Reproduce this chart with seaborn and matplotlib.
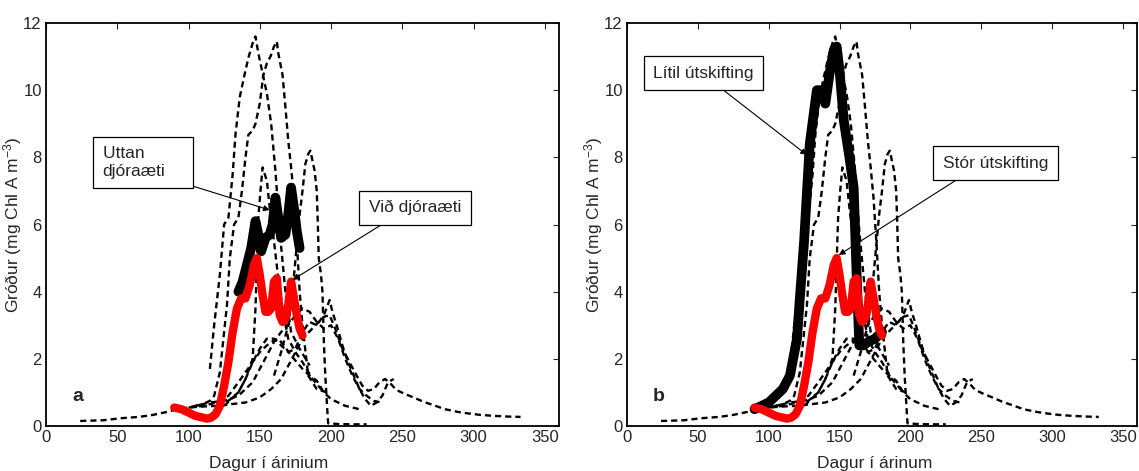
"""
Chlorophyll (Gróður) through the year, two panels a and b.
"""
import matplotlib
matplotlib.use('Agg')
import matplotlib.pyplot as plt
import numpy as np
import seaborn as sns

# background dashed series (same in both panels)
days_A = [115, 118, 122, 125, 128, 131, 133, 136, 139, 142, 145, 147, 149, 152, 155, 158, 161, 164, 168, 172, 178, 185]
chl_A = [1.7, 3.0, 4.5, 6.0, 6.2, 7.5, 8.7, 9.8, 10.4, 10.96, 11.4, 11.6, 11.1, 10.5, 9.9, 9.0, 7.6, 5.8, 4.0, 2.8, 2.3, 1.8]

days_B = [105, 110, 115, 118, 122, 125, 127, 129, 132, 135, 137.5, 140, 142, 145, 147, 150, 152.5, 155, 157.5, 160,
          162, 163, 166, 168, 170, 172, 174, 176, 178, 180, 184, 190, 197]
chl_B = [0.6, 0.65, 0.75, 0.9, 1.6, 2.8, 3.6, 5.0, 6.0, 6.2, 7.0, 8.0, 8.67, 8.8, 9.0, 9.6, 10.45, 10.8, 11.0, 11.3,
         11.45, 11.1, 10.45, 9.5, 8.5, 7.7, 6.8, 5.5, 4.0, 3.0, 1.5, 1.1, 1.0]

days_C = [125, 135, 140, 145, 147, 149, 150.5, 152, 155, 157, 160, 163, 166, 170, 175, 180, 187, 195]
chl_C = [0.6, 1.0, 1.4, 2.0, 3.5, 6.2, 7.0, 7.7, 7.3, 6.5, 5.5, 4.4, 3.5, 2.6, 2.2, 1.9, 1.4, 1.0]

days_D = [160, 165, 170, 173, 176, 178, 180, 182, 184, 185.5, 187, 188.5, 190, 190.7, 191.4, 193, 194, 195, 196,
          197.5, 198, 205, 215, 225]
chl_D = [1.5, 2.2, 3.0, 4.0, 5.4, 6.3, 7.0, 7.8, 8.1, 8.2, 7.9, 7.6, 7.0, 6.1, 5.0, 4.5, 4.0, 2.5, 1.5,
         0.4, 0.08, 0.06, 0.05, 0.05]

days_L = [24, 40, 52, 65, 75, 85, 92, 100, 110, 120, 130, 140, 150, 158, 165, 172, 180, 188, 195, 199, 203, 208,
          213, 218, 222, 226, 230, 234, 238, 242, 246, 252, 258, 265, 272, 280, 289, 297, 305, 315, 325, 333]
chl_L = [0.15, 0.17, 0.23, 0.27, 0.33, 0.42, 0.5, 0.55, 0.58, 0.6, 0.65, 0.7, 0.85, 1.1, 1.4, 1.95, 2.6, 2.95,
         3.25, 3.3, 2.9, 2.3, 1.9, 1.5, 1.2, 1.05, 1.1, 1.3, 1.4, 1.25, 1.07, 0.95, 0.85, 0.72, 0.62, 0.5, 0.42,
         0.37, 0.33, 0.3, 0.28, 0.27]

days_G = [100, 110, 120, 128, 135, 140, 145, 150, 155, 160, 163, 167, 172, 176, 180, 185, 190, 195, 200, 205, 210,
          215, 220]
chl_G = [0.55, 0.6, 0.7, 0.9, 1.3, 1.6, 1.9, 2.2, 2.4, 2.55, 2.6, 2.4, 2.1, 1.9, 1.7, 1.5, 1.35, 1.0, 0.8, 0.7,
         0.6, 0.55, 0.5]

days_H = [120, 128, 135, 140, 145, 150, 155, 160, 165, 170, 175, 180, 185, 190, 195, 199, 201, 204, 208, 212, 216,
          220, 224, 228, 232, 236, 240, 244]
chl_H = [0.6, 0.75, 1.0, 1.4, 1.9, 2.3, 2.6, 2.6, 2.4, 2.2, 2.3, 2.8, 3.1, 3.0, 3.3, 3.75, 3.4, 3.0, 2.4, 1.9,
         1.5, 1.1, 0.8, 0.6, 0.7, 0.9, 1.3, 1.4]

days_I = [95, 105, 115, 125, 135, 145, 150, 155, 160, 165, 170, 175, 180, 185, 190, 195, 200, 205, 210, 215, 220,
          225, 230, 235]
chl_I = [0.5, 0.6, 0.7, 0.75, 0.9, 1.3, 1.7, 2.1, 2.5, 2.8, 3.0, 3.3, 3.5, 3.4, 3.1, 2.9, 3.0, 2.6, 2.0, 1.5,
         1.1, 0.9, 0.75, 0.7]

# red series (both panels)
days_red = [90, 95, 100, 105, 110, 113, 116, 119, 122, 125, 128, 131, 134, 137, 140, 143, 146, 148, 150, 152, 154,
            156, 158, 160, 162, 164, 166, 168, 170, 172, 174, 176, 178, 180]
chl_red = [0.55, 0.5, 0.4, 0.3, 0.25, 0.22, 0.25, 0.35, 0.6, 1.2, 1.9, 2.8, 3.5, 3.8, 3.8, 4.2, 4.8, 5.0, 4.5, 3.9,
           3.4, 3.4, 3.5, 4.3, 4.4, 3.3, 3.1, 3.2, 3.6, 4.3, 3.8, 3.3, 2.9, 2.7]

# black series, panel a (Uttan djóraæti)
days_black_a = [135, 138, 141, 144, 147, 149, 151, 154, 157, 159, 161, 163, 165, 168, 170, 172, 174, 176, 178]
chl_black_a = [4.0, 4.3, 4.8, 5.3, 6.1, 5.7, 5.2, 5.6, 5.7, 6.0, 6.8, 6.2, 5.6, 5.7, 6.3, 7.1, 6.5, 5.8, 5.3]

# black series, panel b (Lítil útskifting)
days_black_b = [90, 100, 110, 115, 120, 122, 125, 129, 134, 137, 140, 143, 146, 148, 150, 153, 157, 160, 162, 164,
                167, 170, 175, 180]
chl_black_b = [0.5, 0.7, 1.1, 1.5, 2.6, 3.8, 5.5, 8.4, 10.0, 10.0, 9.6, 10.5, 11.2, 11.3, 10.6, 9.1, 8.0, 7.1, 4.6,
               2.4, 2.4, 2.5, 2.6, 2.8]

dashed_days = [days_A, days_B, days_C, days_D, days_L, days_G, days_H, days_I]
dashed_chl = [chl_A, chl_B, chl_C, chl_D, chl_L, chl_G, chl_H, chl_I]

x_ticks = [0, 50, 100, 150, 200, 250, 300, 350]
y_ticks = [0, 2, 4, 6, 8, 10, 12]

sns.set_style('white')
plt.rcParams['font.family'] = ['Liberation Sans', 'DejaVu Sans']
plt.rcParams['mathtext.default'] = 'regular'


def draw_panel(ax, black_days, black_chl, letter, xlabel, notes):
    for d, c in zip(dashed_days, dashed_chl):
        sns.lineplot(x=d, y=c, ax=ax, color='k', lw=1.7, linestyle=(0, (2.6, 1.7)),
                     sort=False, estimator=None)
    sns.lineplot(x=black_days, y=black_chl, ax=ax, color='k', lw=7, sort=False, estimator=None,
                 solid_capstyle='round', solid_joinstyle='round')
    sns.lineplot(x=days_red, y=chl_red, ax=ax, color='#ff0000', lw=6, sort=False, estimator=None,
                 solid_capstyle='round', solid_joinstyle='round')
    ax.set_xlim(0, 360)
    ax.set_ylim(0, 12)
    ax.set_xticks(x_ticks)
    ax.set_yticks(y_ticks)
    ax.tick_params(direction='in', top=True, right=True, length=4, width=0.8, labelsize=12, pad=3)
    for s in ax.spines.values():
        s.set_linewidth(1.3)
        s.set_color('k')
    ax.set_xlabel(xlabel, fontsize=12.5)
    ax.set_ylabel('Gróður (mg Chl A m$^{-3}$)', fontsize=12.5)
    ax.yaxis.set_label_coords(-0.043, 0.5)
    ax.text(22, 0.87, letter, fontsize=14, fontweight='bold', ha='center', va='center')
    for txt, xy, xytext, rel, align in notes:
        ax.annotate(txt, xy=xy, xytext=xytext, ha='center', va='center', multialignment=align,
                    fontsize=12.5,
                    bbox=dict(boxstyle='square,pad=0.55', fc='w', ec='k', lw=0.9),
                    arrowprops=dict(arrowstyle='-|>', color='k', lw=0.8, mutation_scale=9,
                                    relpos=rel, shrinkA=0, shrinkB=0))


fig = plt.figure(figsize=(11.39, 4.71), dpi=100)
ax1 = fig.add_axes([46 / 1139, 45 / 471, 513 / 1139, 403 / 471])
ax2 = fig.add_axes([627 / 1139, 45 / 471, 510 / 1139, 403 / 471])

draw_panel(ax1, days_black_a, chl_black_a, 'a', 'Dagur í árinium',
           [('Uttan        \ndjóraæti', (157, 6.43), (68, 7.85), (0.82, 0), 'left'),
            ('Við djóraæti', (173, 4.35), (259, 6.5), (0.3, 0), 'center')])
ax1.xaxis.set_label_coords(0.433, -0.074)

draw_panel(ax2, days_black_b, chl_black_b, 'b', 'Dagur í árinum',
           [('Lítil útskifting', (127, 8.07), (54, 10.5), (0.58, 0), 'center'),
            ('Stór útskifting', (149.5, 5.09), (260, 7.83), (0.27, 0), 'center')])
ax2.xaxis.set_label_coords(0.486, -0.074)

fig.savefig('out.png', dpi=100)
